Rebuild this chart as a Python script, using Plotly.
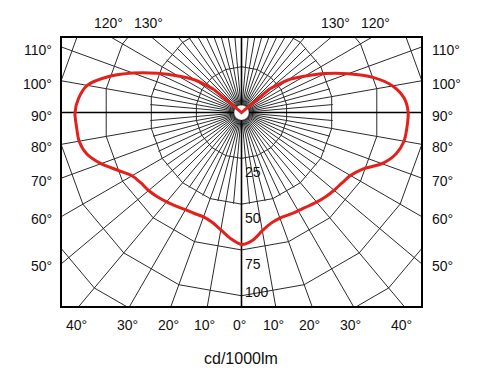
import numpy as np
import plotly.graph_objects as go

# ---- data ----
angles = [0, 5, 10, 15, 20, 25, 30, 35, 40, 45, 50, 55, 60, 65, 70, 75, 80, 85,
          90, 95, 100, 105, 110, 115, 120, 125, 130, 135]
left_cd = [72, 69, 65, 62, 60.6, 60.8, 61.2, 62.3, 63.6, 65, 66.2, 67, 69, 74.5,
           81.6, 87.4, 90, 90.4, 90.9, 89.3, 85.5, 75.5, 63, 50.7, 40, 31, 19.5, 0]
right_cd = [72, 70, 65.5, 62.5, 61.3, 61.5, 61.9, 62.6, 63.8, 65, 66, 67, 68.7, 73,
            81.6, 87.3, 90.1, 90.7, 91, 89.2, 83.8, 74.3, 62, 50.4, 39.6, 31, 20, 0]
ring_values = [25, 50, 75, 100, 125]
ring_labels = [25, 50, 75, 100]
bottom_angles = [0, 10, 20, 30, 40]
side_angles = [50, 60, 70, 80, 90, 100, 110]
top_angles = [120, 130]
unit_label = "cd/1000lm"

# ---- frame (axis ranges, in cd/1000lm units) ----
X_LIM = 98.0
Y_TOP = 40.7
Y_BOT = -105.6
R_IN = 4.0
RING_STEP = 20

FONT = "Liberation Sans, Arial, sans-serif"
RED = "#e3201b"


def to_xy(a_deg, r, side=1):
    a = np.radians(a_deg)
    return side * r * np.sin(a), -r * np.cos(a)


fig = go.Figure()

# radial grid lines
gx, gy = [], []
mx, my = [], []
for a in range(0, 360, 5):
    if a % 90 == 0:
        x0, y0 = to_xy(a, R_IN)
        x1, y1 = to_xy(a, 400)
        mx += [x0, x1, None]
        my += [y0, y1, None]
        continue
    r_out = 400 if a % 10 == 0 else 50
    x0, y0 = to_xy(a, R_IN)
    x1, y1 = to_xy(a, r_out)
    gx += [x0, x1, None]
    gy += [y0, y1, None]

# ring polygons
for v in ring_values:
    th = np.arange(0, 361, RING_STEP)
    xs, ys = to_xy(th, v)
    gx += list(xs) + [None]
    gy += list(ys) + [None]

fig.add_trace(go.Scatter(x=gx, y=gy, mode="lines",
                         line=dict(color="#2b2b2b", width=1),
                         hoverinfo="skip", showlegend=False))
fig.add_trace(go.Scatter(x=mx, y=my, mode="lines",
                         line=dict(color="#000000", width=1.6),
                         hoverinfo="skip", showlegend=False))

# intensity curve: smooth body from left 130 deg, through 0, to right 130 deg
lx, ly = to_xy(np.array(angles[-2::-1]), np.array(left_cd[-2::-1]), side=-1)
rx, ry = to_xy(np.array(angles[1:-1]), np.array(right_cd[1:-1]), side=1)
fig.add_trace(go.Scatter(x=list(lx) + list(rx), y=list(ly) + list(ry), mode="lines",
                         line=dict(color=RED, width=3, shape="spline", smoothing=0.8),
                         hoverinfo="skip", showlegend=False))
# straight V into the centre: left 130 -> centre -> right 130
tlx, tly = to_xy(np.array(angles[-2:]), np.array(left_cd[-2:]), side=-1)
trx, try_ = to_xy(np.array(angles[-2:]), np.array(right_cd[-2:]), side=1)
fig.add_trace(go.Scatter(x=[tlx[0], tlx[1], trx[0]], y=[tly[0], tly[1], try_[0]],
                         mode="lines", line=dict(color=RED, width=3),
                         hoverinfo="skip", showlegend=False))

ann = []
tf = dict(family=FONT, size=14, color="#111111")
# bottom angle labels
for a in bottom_angles:
    sides = [1] if a == 0 else [-1, 1]
    for s in sides:
        x = s * np.tan(np.radians(a)) * (-Y_BOT)
        ann.append(dict(x=x, y=Y_BOT, text=f"{a}°", showarrow=False, font=tf,
                        xanchor="center", yanchor="middle", xshift=-2.5, yshift=-19))
# side angle labels
for a in side_angles:
    y = -X_LIM * np.cos(np.radians(a)) / np.sin(np.radians(a))
    ann.append(dict(x=-X_LIM, y=y, text=f"{a}°", showarrow=False, font=tf,
                    xanchor="right", yanchor="middle", xshift=-8, yshift=-3))
    ann.append(dict(x=X_LIM, y=y, text=f"{a}°", showarrow=False, font=tf,
                    xanchor="left", yanchor="middle", xshift=9, yshift=-3))
# top angle labels
for a in top_angles:
    x = Y_TOP * np.tan(np.radians(180 - a))
    ann.append(dict(x=-x, y=Y_TOP, text=f"{a}°", showarrow=False, font=tf,
                    xanchor="center", yanchor="middle", xshift=-4, yshift=15))
    ann.append(dict(x=x, y=Y_TOP, text=f"{a}°", showarrow=False, font=tf,
                    xanchor="center", yanchor="middle", xshift=5, yshift=15))
# ring value labels
for v in ring_labels:
    below = (v * 1.0 + 10) < -Y_BOT
    ann.append(dict(x=0, y=-v, text=str(v), showarrow=False, font=tf,
                    xanchor="left", yanchor="middle", xshift=1,
                    yshift=-14 if below else 4))
# unit label
ann.append(dict(x=0, y=Y_BOT, text=unit_label, showarrow=False,
                font=dict(family=FONT, size=16, color="#111111"),
                xanchor="center", yanchor="middle", xshift=-1, yshift=-52))

# the page body adds an 8px margin, so the figure is drawn 8px smaller
fig.update_layout(
    width=479, height=378,
    margin=dict(l=54, r=66, t=30, b=80),
    paper_bgcolor="white", plot_bgcolor="white",
    annotations=ann,
    xaxis=dict(range=[-X_LIM, X_LIM], showgrid=False, zeroline=False,
               showticklabels=False, ticks="", showline=True, mirror=True,
               linecolor="#000000", linewidth=1.6, fixedrange=True),
    yaxis=dict(range=[Y_BOT, Y_TOP], showgrid=False, zeroline=False,
               showticklabels=False, ticks="", showline=True, mirror=True,
               linecolor="#000000", linewidth=1.6, fixedrange=True),
)

fig.write_html("out.html")
